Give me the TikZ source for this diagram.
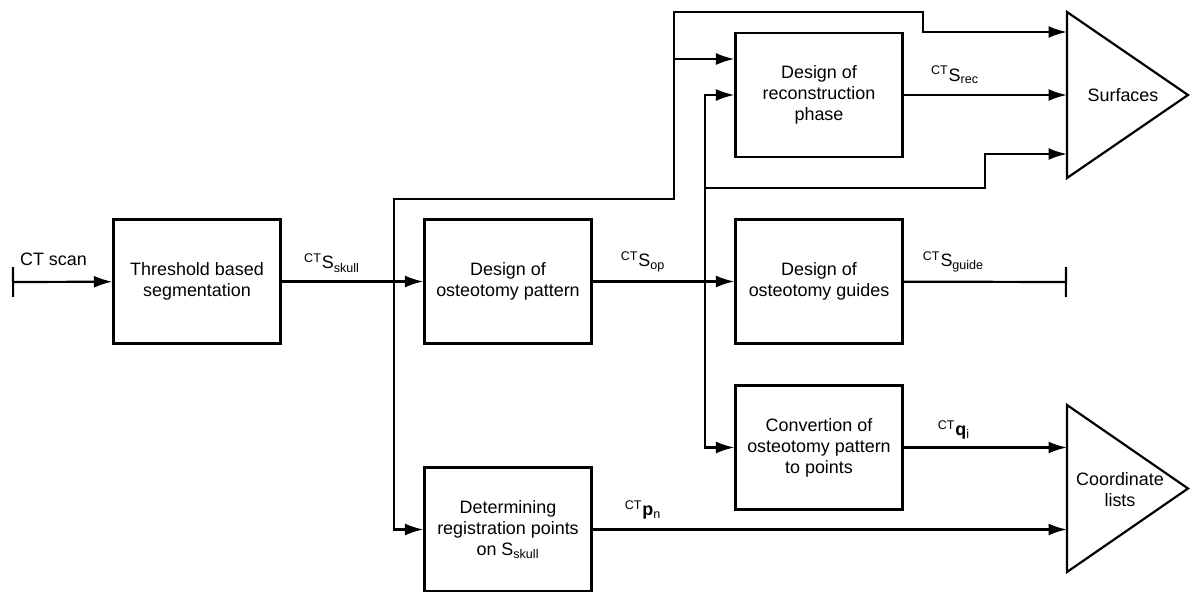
\documentclass[tikz,border=0pt]{standalone}
\usepackage{fontspec}
\setmainfont{Liberation Sans}
\usetikzlibrary{arrows.meta}

\begin{document}
\begin{tikzpicture}

		\tikzset{block/.style = {shape=rectangle,draw,line width=1.25pt,minimum width=3.34cm,minimum height=2.48cm,align=center,font=\fontsize{10.2}{12}\selectfont}}
		\tikzset{lbl/.style = {font=\fontsize{10.2}{12}\selectfont,inner sep=1pt}}
		\tikzset{edge/.style = {line width=1.25pt,-{Latex[length=10.5pt,width=6.8pt]}}}
		\tikzset{wire/.style = {line width=1.25pt}}
		\useasboundingbox (0,0) rectangle (23.8,-11.84);
		\node[block] (seg) at (3.94,-5.63) {Threshold based\\segmentation};
		\node[block] (pattern) at (10.16,-5.63) {Design of\\osteotomy pattern};
		\node[block] (recon) at (16.38,-1.9) {Design of\\reconstruction\\phase};
		\node[block] (guides) at (16.38,-5.63) {Design of\\osteotomy guides};
		\node[block] (convert) at (16.38,-8.95) {Convertion of\\osteotomy pattern\\to points};
		\node[block] (regpts) at (10.16,-10.59) {Determining\\registration points\\on S\textsubscript{skull}};
		% output triangles
		\coordinate (surfTop) at (21.34,-0.24);
		\coordinate (surfBot) at (21.34,-3.56);
		\coordinate (surfTip) at (23.76,-1.9);
		\coordinate (listTop) at (21.34,-8.1);
		\coordinate (listBot) at (21.34,-11.44);
		\coordinate (listTip) at (23.76,-9.77);
		\draw[wire,line join=miter] (surfTop) -- (surfTip) -- (surfBot) -- cycle;
		\draw[wire,line join=miter] (listTop) -- (listTip) -- (listBot) -- cycle;
		\node[lbl] (surf) at (22.46,-1.9) {Surfaces};
		\node[lbl,align=center] (lists) at (22.4,-9.8) {Coordinate\\lists};
		% labels
		\node[lbl,anchor=west] (ctscan) at (0.36,-5.18) {CT scan};
		\node[lbl] (lskull) at (6.64,-5.26) {\textsuperscript{CT}S\textsubscript{skull}};
		\node[lbl] (lop) at (12.86,-5.24) {\textsuperscript{CT}S\textsubscript{op}};
		\node[lbl] (lrec) at (19.1,-1.5) {\textsuperscript{CT}S\textsubscript{rec}};
		\node[lbl] (lguide) at (19.07,-5.24) {\textsuperscript{CT}S\textsubscript{guide}};
		\node[lbl] (lq) at (19.08,-8.6) {\textsuperscript{CT}\textbf{q}\textsubscript{i}};
		\node[lbl] (lp) at (12.86,-10.2) {\textsuperscript{CT}\textbf{p}\textsubscript{n}};
		% junctions and bends
		\coordinate (ctin) at (0.24,-5.64);
		\coordinate (guideEnd) at (21.34,-5.64);
		\coordinate (jA) at (7.88,-5.64);
		\coordinate (riseA) at (13.48,-3.98);
		\coordinate (hopA) at (18.46,-0.24);
		\coordinate (surfIn) at (21.34,-0.64);
		\coordinate (jB) at (13.48,-1.18);
		\coordinate (jD) at (14.1,-5.64);
		\coordinate (jE) at (14.1,-3.76);
		\coordinate (hopB) at (19.7,-3.08);
		%edges
		\draw[edge,{Bar[width=17pt]}-{Latex[length=10.5pt,width=6.8pt]}] (ctin) to (seg);
		\draw[edge] (seg) to (pattern);
		\draw[edge] (pattern) to (guides);
		\draw[edge,-{Bar[width=17pt]}] (guides) to (guideEnd);
		\draw[edge] (jA) |- (regpts);
		\draw[edge] (jA) |- (riseA) |- (hopA) |- (surfIn);
		\draw[edge] (jB) to (jB -| recon.west);
		\draw[edge] (jD) |- (recon);
		\draw[edge] (jD) |- (convert);
		\draw[edge] (jE) -| (hopB) -- (hopB -| surfTop);
		\draw[edge] (recon) to (recon -| surfTop);
		\draw[edge] (convert) to (convert -| listTop);
		\draw[edge] (regpts) to (regpts -| listTop);
		\end{tikzpicture}
\end{document}
